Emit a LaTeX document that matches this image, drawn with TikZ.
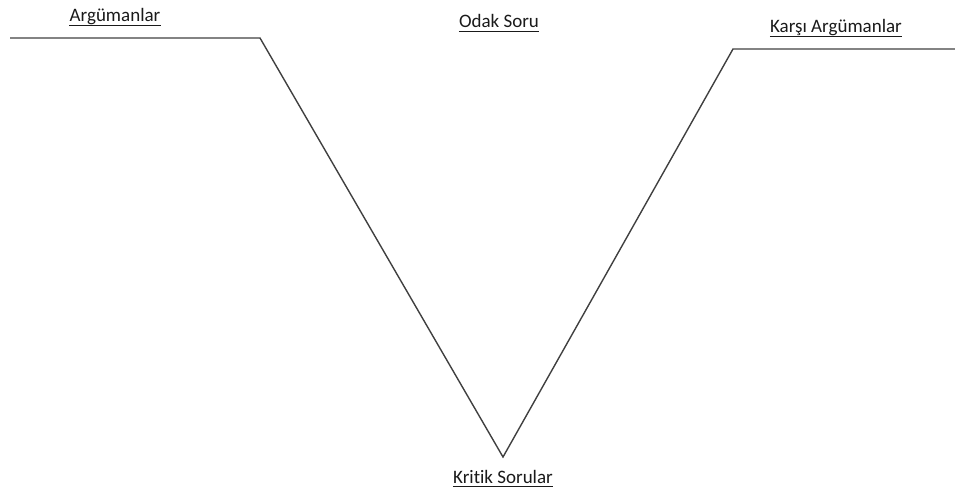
\documentclass[tikz,border=0pt]{standalone}
\usepackage{fontspec}
\setmainfont[Ligatures=NoCommon]{Carlito}
\usepackage{tikz}
\usetikzlibrary{positioning,calc}
\definecolor{inkline}{HTML}{404040}
\definecolor{inktext}{HTML}{1A1A1A}

\begin{document}
\begin{tikzpicture}[
      x=1bp,y=-1bp,
      lbl/.style={inner sep=0pt,anchor=base,text=inktext,
                  font=\fontsize{19bp}{22bp}\selectfont},
      uline/.style={draw=inktext,line width=1.1bp},
      vline/.style={draw=inkline,line width=1.4bp,line join=miter}
    ]
    \useasboundingbox (0,0) rectangle (955,489);
    % the V
    \coordinate (lstart) at (10,38);
    \coordinate (lcorner) at (260,38);
    \coordinate (vtip) at (503,457);
    \coordinate (rcorner) at (733,49);
    \coordinate (rend) at (955,49);
    \draw[vline] (lstart) -- (lcorner) -- (vtip) -- (rcorner) -- (rend);
    % labels
    \node[lbl] (arg) at (115,22) {Argümanlar};
    \node[lbl] (odak) at (499,28) {Odak Soru};
    \node[lbl] (karsi) at (836,33) {Karşı Argümanlar};
    \node[lbl] (kritik) at (503,483) {Kritik Sorular};
    \foreach \n in {arg,odak,karsi,kritik}
      \draw[uline] ([yshift=-3.5bp]\n.base west) -- ([yshift=-3.5bp]\n.base east);
  \end{tikzpicture}
\end{document}
